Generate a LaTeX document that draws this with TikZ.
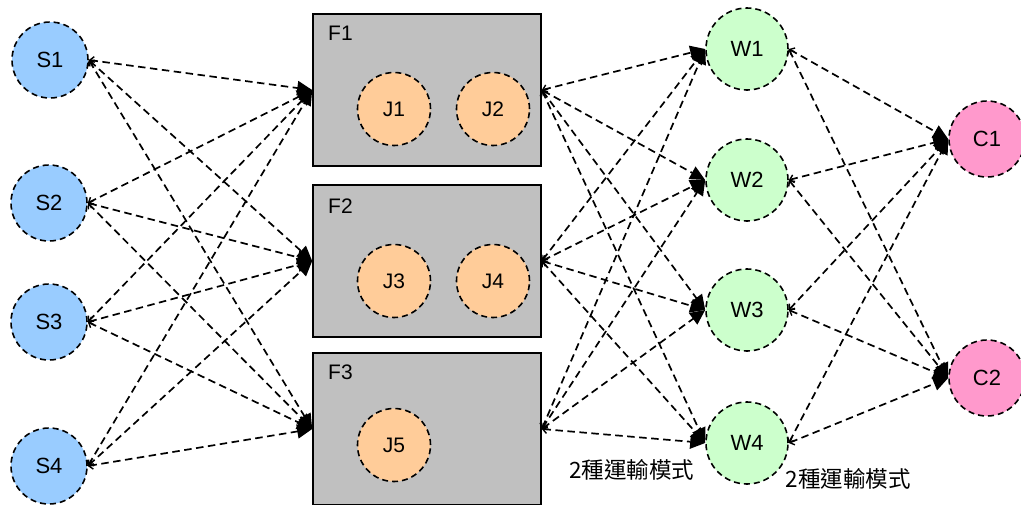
\documentclass[tikz,border=0pt]{standalone}
\usepackage{fontspec}
\setmainfont{Liberation Sans}
\newfontfamily\cjk{Noto Sans CJK TC}
\usetikzlibrary{arrows.meta}

\definecolor{supply}{HTML}{99CCFF}
\definecolor{job}{HTML}{FFCC99}
\definecolor{plant}{HTML}{C0C0C0}
\definecolor{depot}{HTML}{CCFFCC}
\definecolor{client}{HTML}{FF99CC}

\begin{document}
\begin{tikzpicture}[x=1pt,y=-1pt,
  roundnode/.style={circle, draw=black, line width=1.6pt,
    dash pattern=on 6pt off 4pt, minimum size=76pt, inner sep=0pt,
    font=\fontsize{22}{26}\selectfont},
  jobnode/.style={roundnode, fill=job, minimum size=73pt,
    font=\fontsize{21}{25}\selectfont},
  plantbox/.style={draw=black, line width=1.6pt, fill=plant},
  plantlabel/.style={anchor=west, inner sep=0pt, font=\fontsize{21}{25}\selectfont},
  link/.style={draw, line width=1.7pt, dash pattern=on 7.5pt off 4.5pt,
    {Straight Barb[length=4pt,width=8pt,line width=1.4pt]}-{Triangle[length=15pt,width=14pt]}},
  modelabel/.style={inner sep=0pt, font=\cjk\fontsize{22.5}{26}\selectfont}
]
\clip (0,0) rectangle (1021,504);
\useasboundingbox (0,0) rectangle (1021,504);

% plants with their jobs
\node[plantbox, minimum width=228pt, minimum height=152pt, inner sep=0pt] (F1) at (427,90) {};
\node[plantbox, minimum width=228pt, minimum height=152pt, inner sep=0pt] (F2) at (427,261) {};
\node[plantbox, minimum width=228pt, minimum height=152pt, inner sep=0pt] (F3) at (427,429) {};
\node[plantlabel] (F1l) at (328,33) {F1};
\node[plantlabel] (F2l) at (328,206) {F2};
\node[plantlabel] (F3l) at (328,372) {F3};

\node[jobnode] (J1) at (394,109) {J1};
\node[jobnode] (J2) at (493,109) {J2};
\node[jobnode] (J3) at (394,281) {J3};
\node[jobnode] (J4) at (493,281) {J4};
\node[jobnode] (J5) at (394,445) {J5};

% suppliers
\node[roundnode, fill=supply] (S1) at (50,60) {S1};
\node[roundnode, fill=supply] (S2) at (49,203) {S2};
\node[roundnode, fill=supply] (S3) at (49,322) {S3};
\node[roundnode, fill=supply] (S4) at (49,466) {S4};

% warehouses
\node[roundnode, fill=depot, minimum size=82pt] (W1) at (747,49) {W1};
\node[roundnode, fill=depot, minimum size=82pt] (W2) at (747,180) {W2};
\node[roundnode, fill=depot, minimum size=82pt] (W3) at (747,310) {W3};
\node[roundnode, fill=depot, minimum size=82pt] (W4) at (747,443) {W4};

% customers
\node[roundnode, fill=client] (C1) at (987,139) {C1};
\node[roundnode, fill=client] (C2) at (987,378) {C2};

% suppliers -> plants
\foreach \s in {S1,S2,S3,S4}
  \foreach \f in {F1,F2,F3}
    \draw[link] (\s.east) -- (\f.west);

% plants -> warehouses
\foreach \f in {F1,F2,F3}
  \foreach \w in {W1,W2,W3,W4}
    \draw[link] (\f.east) -- (\w.west);

% warehouses -> customers
\foreach \w in {W1,W2,W3,W4}
  \foreach \c in {C1,C2}
    \draw[link] (\w.east) -- (\c.west);

% transport mode notes
\node[modelabel] (M1) at (632,470) {2種運輸模式};
\node[modelabel] (M2) at (848,479) {2種運輸模式};
\end{tikzpicture}
\end{document}
